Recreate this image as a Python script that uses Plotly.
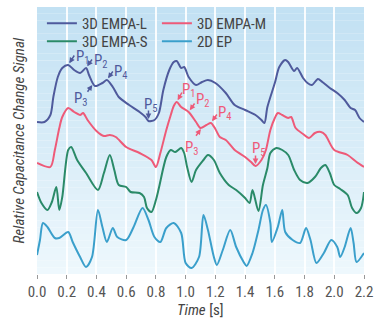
import numpy as np
import plotly.graph_objects as go

# ---- data (time in s, relative signal in arbitrary units) ----
t_L = [0.00, 0.05, 0.09, 0.11, 0.14, 0.17, 0.21, 0.25, 0.29, 0.33, 0.35, 0.39, 0.44, 0.47, 0.51,
       0.55, 0.62, 0.69, 0.73, 0.75, 0.79, 0.82, 0.85, 0.89, 0.92, 0.94, 0.97, 0.99, 1.02, 1.07,
       1.11, 1.15, 1.20, 1.27, 1.33, 1.40, 1.47, 1.51, 1.53, 1.55, 1.60, 1.63, 1.67, 1.69, 1.73,
       1.75, 1.79, 1.82, 1.85, 1.89, 1.92, 1.97, 2.02, 2.07, 2.11, 2.14, 2.17, 2.20]
v_L = [152, 152, 159, 177, 197, 206, 209, 204, 201, 206, 199, 188, 191, 194, 187,
       177, 169, 162, 157, 153, 154, 161, 184, 204, 212, 213, 206, 207, 197, 189,
       192, 194, 191, 181, 169, 164, 159, 154, 151, 167, 191, 207, 214, 212, 203,
       206, 196, 191, 189, 195, 192, 186, 181, 174, 166, 164, 156, 152]

t_M = [0.00, 0.09, 0.12, 0.15, 0.17, 0.21, 0.25, 0.29, 0.31, 0.34, 0.40, 0.45, 0.49, 0.53, 0.60,
       0.69, 0.77, 0.80, 0.83, 0.87, 0.90, 0.92, 0.94, 0.97, 1.02, 1.07, 1.10, 1.14, 1.17, 1.20,
       1.23, 1.27, 1.33, 1.40, 1.44, 1.47, 1.51, 1.54, 1.57, 1.60, 1.62, 1.65, 1.69, 1.71, 1.74,
       1.79, 1.83, 1.87, 1.91, 1.94, 2.00, 2.09, 2.15, 2.20]
v_M = [111, 107, 124, 146, 157, 166, 162, 159, 161, 154, 143, 138, 139, 137, 127,
       121, 114, 107, 121, 144, 159, 168, 172, 167, 162, 152, 146, 149, 151, 145,
       137, 134, 124, 117, 112, 108, 114, 124, 144, 156, 161, 159, 156, 157, 146,
       140, 136, 141, 142, 139, 124, 119, 112, 107]

t_S = [0.00, 0.03, 0.07, 0.10, 0.13, 0.15, 0.17, 0.21, 0.23, 0.27, 0.33, 0.41, 0.45, 0.49, 0.52,
       0.55, 0.60, 0.63, 0.69, 0.72, 0.74, 0.77, 0.80, 0.82, 0.87, 0.90, 0.93, 0.97, 0.99, 1.01,
       1.04, 1.07, 1.12, 1.15, 1.19, 1.23, 1.29, 1.34, 1.40, 1.43, 1.45, 1.49, 1.52, 1.55, 1.57,
       1.61, 1.65, 1.69, 1.73, 1.77, 1.82, 1.87, 1.91, 1.94, 1.97, 2.00, 2.04, 2.09, 2.12, 2.15,
       2.18, 2.20]
v_S = [82, 71, 64, 72, 87, 64, 77, 124, 127, 114, 101, 84, 101, 119, 104,
       89, 87, 82, 81, 77, 66, 62, 74, 86, 117, 124, 122, 126, 121, 107,
       92, 104, 114, 119, 114, 101, 89, 84, 76, 71, 84, 63, 89, 106, 121,
       126, 124, 119, 104, 94, 91, 97, 106, 109, 101, 89, 85, 79, 66, 61,
       66, 82]

t_E = [0.00, 0.02, 0.04, 0.07, 0.12, 0.15, 0.21, 0.24, 0.29, 0.33, 0.37, 0.41, 0.44, 0.47, 0.51,
       0.54, 0.60, 0.65, 0.71, 0.75, 0.79, 0.83, 0.87, 0.92, 0.97, 1.00, 1.04, 1.09, 1.12, 1.15,
       1.19, 1.21, 1.25, 1.30, 1.34, 1.39, 1.41, 1.45, 1.49, 1.52, 1.54, 1.57, 1.58, 1.62, 1.65,
       1.67, 1.72, 1.77, 1.81, 1.84, 1.88, 1.93, 1.98, 2.02, 2.04, 2.07, 2.11, 2.13, 2.15, 2.20]
v_E = [19, 34, 51, 47, 36, 36, 42, 32, 17, 7, 17, 64, 47, 32, 46,
       37, 34, 47, 66, 54, 37, 32, 46, 51, 41, 11, 6, 17, 59, 44,
       17, 9, 24, 44, 27, 12, 8, 21, 44, 64, 69, 51, 32, 47, 64,
       42, 34, 31, 46, 34, 11, 21, 34, 27, 17, 27, 46, 31, 12, 21]

series_names = ["3D EMPA-L", "3D EMPA-M", "3D EMPA-S", "2D EP"]
series_t = [t_L, t_M, t_S, t_E]
series_v = [v_L, v_M, v_S, v_E]
series_legend = ["legend", "legend", "legend2", "legend2"]
colors = ["#4f5a9c", "#ee5a78", "#2a8a68", "#3a9fcb"]

# peak markers P1..P5 on the L and M curves (label, time of feature)
peak_labels = ["P<sub>1</sub>", "P<sub>2</sub>", "P<sub>3</sub>", "P<sub>4</sub>", "P<sub>5</sub>"]
peak_times_L = [0.21, 0.33, 0.38, 0.47, 0.75]
peak_times_M = [0.94, 1.02, 1.11, 1.17, 1.47]

# arrow tail offsets (px) and label offsets (px, y up) -- styling
arrow_L = [(7, -11), (7, -10), (-7, 10), (7, -10), (0, -12)]
label_L = [(15, 8), (15, 7), (-12, -16), (14, 8), (3, 16)]
arrow_M = [(6, -11), (7, -10), (-7, 10), (7, -10), (0, -12)]
label_M = [(12, 12), (14, 12), (-10, -21), (14, 10), (3, 17)]

xticks = [0.0, 0.2, 0.4, 0.6, 0.8, 1.0, 1.2, 1.4, 1.6, 1.8, 2.0, 2.2]

FONT = "Liberation Sans Narrow, Roboto Condensed, Liberation Sans, Arial"

fig = go.Figure()
for name, tt, vv, c, lg in zip(series_names, series_t, series_v, colors, series_legend):
    fig.add_trace(go.Scatter(x=tt, y=vv, mode="lines", name=name, legend=lg,
                             line=dict(color=c, width=2, shape="spline", smoothing=0.8)))

# background vertical gradient
top = np.array([0xc2, 0xe1, 0xf3])
bot = np.array([0xee, 0xf8, 0xfd])
n = 40
shapes = []
for i in range(n):
    f = i / (n - 1)
    col = top * (1 - f) + bot * f
    shapes.append(dict(type="rect", xref="paper", yref="paper", x0=0, x1=1,
                       y1=1 - i / n, y0=1 - (i + 1) / n, layer="below",
                       fillcolor="rgb(%d,%d,%d)" % tuple(col.astype(int)), line=dict(width=0)))

annotations = []
for times, tt, vv, c, arrows, labels in [(peak_times_L, t_L, v_L, colors[0], arrow_L, label_L),
                                         (peak_times_M, t_M, v_M, colors[1], arrow_M, label_M)]:
    for lab, tp, (ax, ay), (lx, ly) in zip(peak_labels, times, arrows, labels):
        yp = float(np.interp(tp, tt, vv))
        annotations.append(dict(x=tp, y=yp, text="", showarrow=True, ax=ax, ay=ay,
                                arrowhead=2, arrowsize=0.75, arrowwidth=1.5, arrowcolor=c,
                                standoff=2))
        annotations.append(dict(x=tp, y=yp, text=lab, showarrow=False, xshift=lx, yshift=ly,
                                font=dict(family=FONT, size=15, color=c)))

# axis titles
annotations.append(dict(x=0.5, y=0, xref="paper", yref="paper", yshift=-36, showarrow=False,
                        text="<i>Time</i> [s]", yanchor="middle",
                        font=dict(family=FONT, size=15, color="#444")))
annotations.append(dict(x=0, y=0.5, xref="paper", yref="paper", xshift=-19, showarrow=False,
                        text="<i>Relative Capacitance Change Signal</i>", textangle=-90,
                        xanchor="center", yanchor="middle",
                        font=dict(family=FONT, size=15, color="#444")))

legend_common = dict(orientation="h", xanchor="left", yanchor="top",
                     entrywidth=70, entrywidthmode="pixels", bgcolor="rgba(0,0,0,0)",
                     font=dict(family=FONT, size=15, color="#444"), itemwidth=30)

fig.update_layout(
    width=380, height=322,
    margin=dict(l=37, r=12, t=7, b=48),
    paper_bgcolor="white", plot_bgcolor="rgba(0,0,0,0)",
    font=dict(family=FONT, size=15, color="#444"),
    shapes=shapes, annotations=annotations,
    showlegend=True,
    legend=dict(x=0.015, y=1.0, **legend_common),
    legend2=dict(x=0.015, y=1.0 - 18 / 267, **legend_common),
)
fig.update_xaxes(range=[0, 2.2], tickvals=xticks, tickformat=".1f", ticks="outside",
                 ticklen=4, tickcolor="#999", tickfont=dict(color="#555", size=15),
                 showgrid=True, gridcolor="rgba(255,255,255,0.9)", gridwidth=1.5,
                 zeroline=False, showline=False)
fig.update_yaxes(range=[0, 267], showticklabels=False, ticks="", showgrid=False, zeroline=False,
                 showline=False)

fig.write_html("out.html")
